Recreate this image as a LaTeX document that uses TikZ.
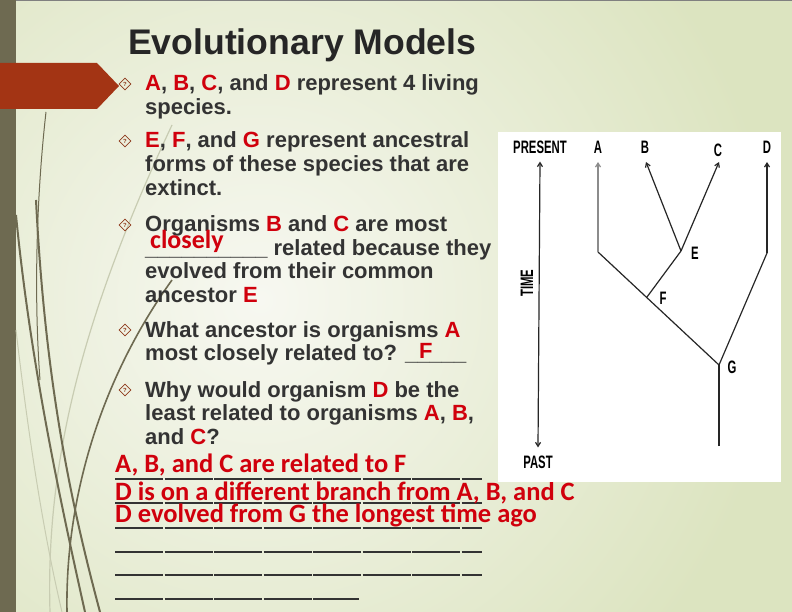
\documentclass[tikz,border=0pt]{standalone}
\usepackage{fontspec}
\setmainfont{Liberation Sans}
\newfontfamily\answerfont{Carlito}
\usetikzlibrary{calc}
\usetikzlibrary{arrows.meta}
\usetikzlibrary{shapes.geometric}

\definecolor{olive}{HTML}{6E6A51}
\definecolor{olivelight}{HTML}{C8CCB2}
\definecolor{tabred}{HTML}{A33414}
\definecolor{bulletred}{HTML}{8E3A1C}
\definecolor{textgray}{HTML}{333333}
\definecolor{ansred}{HTML}{D0000C}
\definecolor{bglight}{HTML}{F7F8F1}
\definecolor{bgdark}{HTML}{DCE4C0}

\newcommand{\rd}[1]{\textcolor{ansred}{#1}}
\newcommand{\cond}[1]{\scalebox{0.63}[1]{#1}}

\tikzset{
  line/.style={anchor=base west, inner sep=0pt, text=textgray,
    font=\fontsize{22}{24}\selectfont\bfseries},
  answer/.style={anchor=base west, inner sep=0pt, text=ansred,
    font=\fontsize{26.5}{28}\answerfont\bfseries},
  bullet/.style={shape=diamond, draw=bulletred, line width=0.8pt, inner sep=0pt,
    minimum size=12pt, text=bulletred, font=\fontsize{6}{6}\selectfont\bfseries},
  lbl/.style={inner sep=0pt, font=\fontsize{18}{18}\selectfont\bfseries},
  branch/.style={line width=1.2pt, draw=black!85},
  tip/.style={branch, -{Straight Barb[length=4pt,width=5pt]}},
  blank/.style={line width=1.8pt, draw=textgray, dash pattern=on 48pt off 1.5pt},
}

\begin{document}
\begin{tikzpicture}[x=1pt,y=-1pt]
  % Boundary
  \useasboundingbox (0,0) rectangle (792,612);
  % Background
  \begin{scope}
    \clip (0,0) rectangle (792,612);
    \fill[bgdark] (0,0) rectangle (792,612);
    \shade[inner color=bglight, outer color=bgdark] (260,300) circle (520);
  \end{scope}
  \draw[gray, line width=1pt] (0,0.5) -- (792,0.5);
  \fill[olive] (0,0) rectangle (16,612);
  % Curves on the left
  \draw[olivelight, line width=1.2pt] (172,125) .. controls (90,300) and (45,450) .. (50,612);
  \draw[olivelight, line width=1pt] (16,330) .. controls (30,450) and (45,540) .. (62,612);
  \draw[olive, line width=1pt] (46,112) .. controls (36,200) and (34,300) .. (40,380);
  \draw[olive, line width=2pt] (36,200) .. controls (45,380) and (70,500) .. (100,612);
  \draw[olive, line width=2pt] (16,215) .. controls (30,360) and (60,500) .. (85,612);
  \draw[olive, line width=1.6pt] (172,280) .. controls (100,380) and (65,500) .. (67,612);
  % Tab
  \fill[tabred] (0,63) -- (97,63) -- (119,86) -- (97,109) -- (0,109) -- cycle;
  % Title
  \node[anchor=base west, inner sep=0pt, text=black!85,
    font=\fontsize{35.6}{40}\selectfont\bfseries] (title) at (128,55) {Evolutionary Models};
  % Bullets
  \node[bullet] (b1) at (125,84) {?};
  \node[bullet] (b2) at (125,141) {?};
  \node[bullet] (b3) at (125,225) {?};
  \node[bullet] (b4) at (125,330) {?};
  \node[bullet] (b5) at (125,390) {?};
  % Questions
  \node[line] (q1a) at (145,91) {\rd{A}, \rd{B}, \rd{C}, and \rd{D} represent 4 living};
  \node[line] (q1b) at (145,115) {species.};
  \node[line] (q2a) at (145,148) {\rd{E}, \rd{F}, and \rd{G} represent ancestral};
  \node[line] (q2b) at (145,172) {forms of these species that are};
  \node[line] (q2c) at (145,196) {extinct.};
  \node[line] (q3a) at (145,232) {Organisms \rd{B} and \rd{C} are most};
  \node[line] (q3b) at (145,255) {\_\_\_\_\_\_\_\_\_\_ related because they};
  \node[line] (q3c) at (145,279) {evolved from their common};
  \node[line] (q3d) at (145,302) {ancestor \rd{E}};
  \node[line] (q4a) at (145,337) {What ancestor is organisms \rd{A}};
  \node[line] (q4b) at (145,360) {most closely related to? \_\_\_\_\_};
  \node[line] (q5a) at (145,397) {Why would organism \rd{D} be the};
  \node[line] (q5b) at (145,420) {least related to organisms \rd{A}, \rd{B},};
  \node[line] (q5c) at (145,444) {and \rd{C}?};
  % Filled in words
  \node[answer, font=\fontsize{26}{28}\answerfont\bfseries] (closely) at (150,249) {closely};
  \node[line, text=ansred] (fillf) at (419,358) {F};
  % Answer lines
  \foreach \y in {479,503,528,552,575}
    \draw[blank] (115,\y) -- (482,\y);
  \draw[blank] (115,599) -- (359,599);
  \node[answer] (ans1) at (115,472) {A, B, and C are related to F};
  \node[answer] (ans2) at (115,500) {D is on a different branch from A, B, and C};
  \node[answer] (ans3) at (115,522) {D evolved from G the longest time ago};
  % Tree box
  \fill[white] (498,132) rectangle (781,482);
  \node[lbl] (present) at (540,147) {\cond{PRESENT}};
  \node[lbl] (past) at (538,462) {\cond{PAST}};
  \node[lbl, rotate=90] (time) at (527,283) {\cond{TIME}};
  \node[lbl] (la) at (598,147) {\cond{A}};
  \node[lbl] (lb) at (645,147) {\cond{B}};
  \node[lbl] (lc) at (718,150) {\cond{C}};
  \node[lbl] (ld) at (767,147) {\cond{D}};
  \node[lbl] (le) at (695,253) {\cond{E}};
  \node[lbl] (lf) at (663,298) {\cond{F}};
  \node[lbl] (lg) at (732,367) {\cond{G}};
  % Branch points
  \coordinate (g) at (719,365);
  \coordinate (f) at (647,297);
  \coordinate (e) at (681,251);
  \coordinate (akink) at (598,252);
  \coordinate (dkink) at (767,253);
  \coordinate (groot) at (719,446);
  \coordinate (atip) at (598,162);
  \coordinate (btip) at (646,162);
  \coordinate (ctip) at (719,162);
  \coordinate (dtip) at (767,162);
  % Time axis
  \draw[branch, {Straight Barb[length=4pt,width=5pt]}-{Straight Barb[length=4pt,width=5pt]}]
    ($(present.south)+(0,8)$) -- ($(past.north)+(0,-8)$);
  % Tree
  \draw[branch] (groot) -- (g);
  \draw[branch] (g) -- (akink);
  \draw[tip, draw=black!45] (akink) -- (atip);
  \draw[branch] (g) -- (dkink);
  \draw[tip] (dkink) -- (dtip);
  \draw[branch] (f) -- (e);
  \draw[tip] (e) -- (btip);
  \draw[tip] (e) -- (ctip);
\end{tikzpicture}
\end{document}
